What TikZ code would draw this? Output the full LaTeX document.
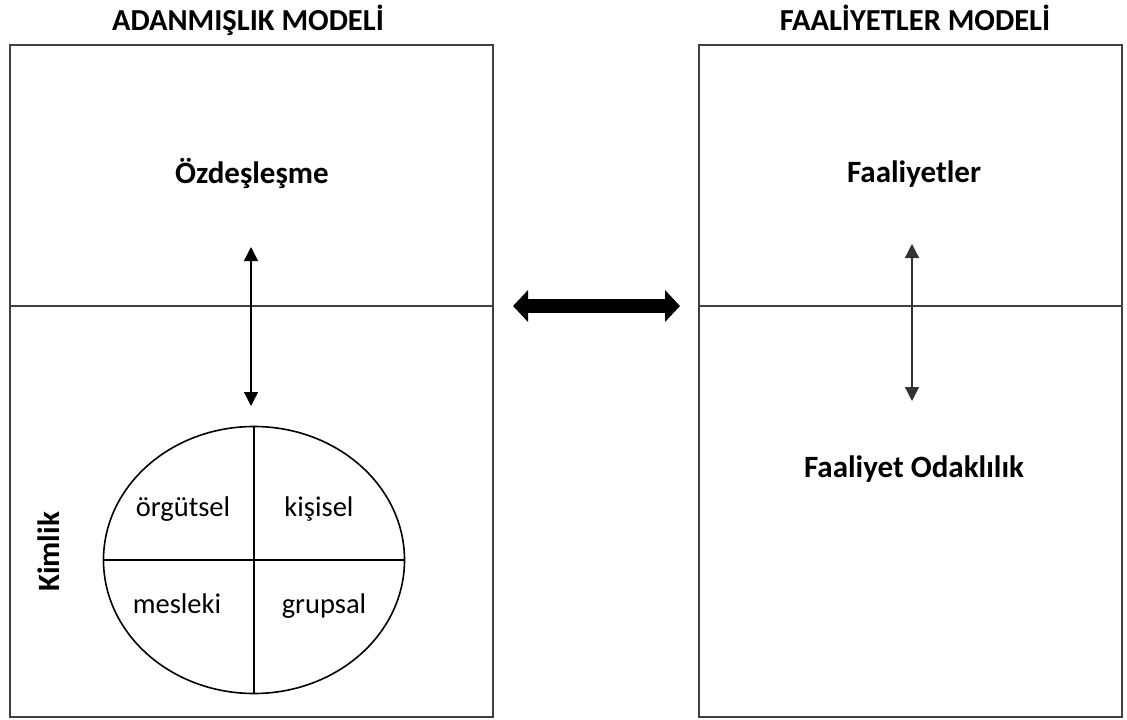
\documentclass[tikz,border=0pt]{standalone}
\usepackage{fontspec}
\setmainfont{Carlito}
\usetikzlibrary{arrows.meta,shapes.geometric}
\begin{document}
\begin{tikzpicture}[x=1pt,y=-1pt,
  frame/.style={draw=black!75,line width=1.3pt},
  title/.style={anchor=base,font=\bfseries\fontsize{30.5}{34}\selectfont},
  head/.style={anchor=base,font=\bfseries\fontsize{31}{34}\selectfont},
  part/.style={anchor=base,font=\fontsize{28.5}{32}\selectfont},
  link/.style={line width=1.3pt,{Triangle[length=14pt 0 0,width=14pt 0 0]}-{Triangle[length=14pt 0 0,width=14pt 0 0]}},
  bigarrow/.style={line width=14pt,{Triangle[length=15pt 0 0,width=31pt 0 0]}-{Triangle[length=15pt 0 0,width=31pt 0 0]}}]
\useasboundingbox[fill=white] (0,0) rectangle (1127,720);

% titles
\node[title] (t1) at (248,30) {ADANMIŞLIK MODELİ};
\node[title] (t2) at (915,30) {FAALİYETLER MODELİ};

% left model frame
\node[frame,rectangle,minimum width=483pt,minimum height=672pt,inner sep=0pt] (lbox) at (251.5,381) {};
\draw[frame] (10,306) -- (493,306);
% right model frame
\node[frame,rectangle,minimum width=423pt,minimum height=672pt,inner sep=0pt] (rbox) at (910.5,381) {};
\draw[frame] (699,306) -- (1122,306);

% labels
\node[head] (oz) at (252,183) {Özdeşleşme};
\node[head] (fa) at (914,182) {Faaliyetler};
\node[head] (fo) at (914,477) {Faaliyet Odaklılık};
\node[head,anchor=center,rotate=90] (ki) at (49,552) {Kimlik};

% identity ellipse with four quadrants
\node[draw,line width=1.6pt,ellipse,minimum width=301pt,minimum height=267pt,inner sep=0pt] (ell) at (254,560) {};
\draw[line width=1.6pt] (ell.north) -- (ell.south);
\draw[line width=1.6pt] (ell.west) -- (ell.east);
\node[part] (q1) at (183,516) {örgütsel};
\node[part] (q2) at (319,516) {kişisel};
\node[part] (q3) at (177,613) {mesleki};
\node[part] (q4) at (324,613) {grupsal};

% vertical links
\coordinate (la) at (251,247);
\coordinate (lb) at (251,406);
\draw[link] (la) -- (lb);
\coordinate (ra) at (912,244);
\coordinate (rb) at (912,401);
\draw[link,draw=black!80,fill=black] (ra) -- (rb);

% link between the two models
\coordinate (ma) at (513,306);
\coordinate (mb) at (680,306);
\draw[bigarrow] (ma) -- (mb);
\end{tikzpicture}
\end{document}
